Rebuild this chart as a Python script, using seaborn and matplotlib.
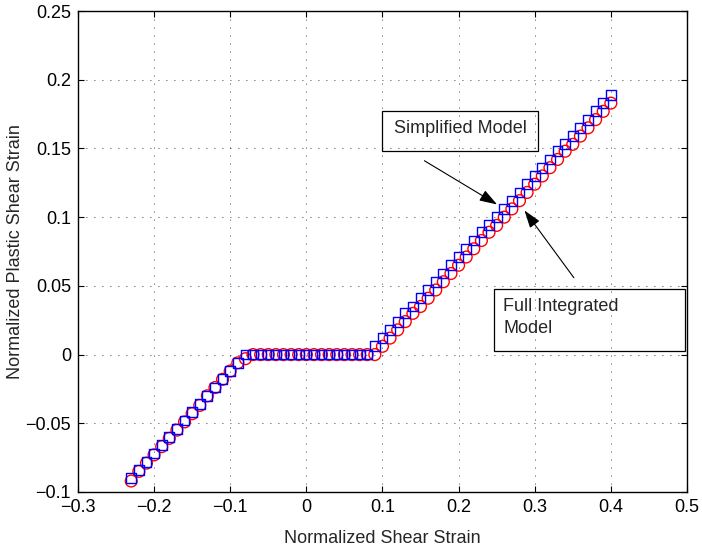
import numpy as np
import pandas as pd
import seaborn as sns
import matplotlib.pyplot as plt
from matplotlib.patches import Rectangle

# normalized shear strain (same grid for both models)
strain = [-0.23, -0.22, -0.21, -0.20, -0.19, -0.18, -0.17, -0.16, -0.15, -0.14,
          -0.13, -0.12, -0.11, -0.10, -0.09, -0.08, -0.07, -0.06, -0.05, -0.04,
          -0.03, -0.02, -0.01, 0.00, 0.01, 0.02, 0.03, 0.04, 0.05, 0.06,
          0.07, 0.08, 0.09, 0.10, 0.11, 0.12, 0.13, 0.14, 0.15, 0.16,
          0.17, 0.18, 0.19, 0.20, 0.21, 0.22, 0.23, 0.24, 0.25, 0.26,
          0.27, 0.28, 0.29, 0.30, 0.31, 0.32, 0.33, 0.34, 0.35, 0.36,
          0.37, 0.38, 0.39, 0.40]

# full integrated model (red circles)
plastic_full = [-0.092, -0.085, -0.079, -0.073, -0.067, -0.061, -0.055, -0.049, -0.043, -0.037,
                -0.030, -0.024, -0.018, -0.012, -0.006, -0.003, 0.0, 0.0, 0.0, 0.0,
                0.0, 0.0, 0.0, 0.0, 0.0, 0.0, 0.0, 0.0, 0.0, 0.0,
                0.0, 0.0, 0.0, 0.006, 0.012, 0.018, 0.024, 0.030, 0.035, 0.041,
                0.047, 0.053, 0.059, 0.065, 0.071, 0.077, 0.083, 0.089, 0.094, 0.100,
                0.106, 0.112, 0.118, 0.124, 0.130, 0.136, 0.142, 0.148, 0.153, 0.159,
                0.165, 0.171, 0.177, 0.183]

# simplified model (blue squares)
plastic_simple = [-0.090, -0.084, -0.078, -0.072, -0.066, -0.060, -0.054, -0.048, -0.042, -0.036,
                  -0.030, -0.024, -0.018, -0.012, -0.006, 0.0, 0.0, 0.0, 0.0, 0.0,
                  0.0, 0.0, 0.0, 0.0, 0.0, 0.0, 0.0, 0.0, 0.0, 0.0,
                  0.0, 0.0, 0.006, 0.012, 0.018, 0.024, 0.030, 0.035, 0.041, 0.047,
                  0.053, 0.059, 0.065, 0.071, 0.077, 0.083, 0.089, 0.094, 0.100, 0.106,
                  0.112, 0.118, 0.124, 0.130, 0.136, 0.142, 0.148, 0.153, 0.159, 0.165,
                  0.171, 0.177, 0.183, 0.189]

x_ticks = [-0.3, -0.2, -0.1, 0, 0.1, 0.2, 0.3, 0.4, 0.5]
x_tick_labels = ["\u22120.3", "\u22120.2", "\u22120.1", "0", "0.1", "0.2", "0.3", "0.4", "0.5"]
y_ticks = [-0.1, -0.05, 0, 0.05, 0.1, 0.15, 0.2, 0.25]
y_tick_labels = ["\u22120.1", "\u22120.05", "0", "0.05", "0.1", "0.15", "0.2", "0.25"]

sns.set_style("white")
plt.rcParams["font.family"] = ["Liberation Sans", "DejaVu Sans"]

df = pd.DataFrame({"strain": strain, "full": plastic_full, "simple": plastic_simple})

fig = plt.figure(figsize=(7.02, 5.52), dpi=100)
ax = fig.add_axes([0.111, 0.1087, 0.8676, 0.8713])

sns.scatterplot(data=df, x="strain", y="full", marker="o", s=72, facecolor="none",
                edgecolor="#ff0000", linewidth=1.0, ax=ax, zorder=3)
sns.scatterplot(data=df, x="strain", y="simple", marker="s", s=50, facecolor="none",
                edgecolor="#0000ff", linewidth=1.0, ax=ax, zorder=4)

ax.set_xlim(-0.3, 0.5)
ax.set_ylim(-0.1, 0.25)
ax.set_xticks(x_ticks)
ax.set_xticklabels(x_tick_labels)
ax.set_yticks(y_ticks)
ax.set_yticklabels(y_tick_labels)
ax.grid(True, color="black", linestyle=(0, (1, 8.6)), linewidth=0.6)
ax.tick_params(direction="in", length=4, width=0.8, labelsize=13, pad=5,
               top=True, right=True, bottom=True, left=True, colors="black")
for s in ax.spines.values():
    s.set_color("black")
    s.set_linewidth(1.0)

ax.set_xlabel("Normalized Shear Strain", fontsize=13, labelpad=10)
ax.set_ylabel("Normalized Plastic Shear Strain", fontsize=13, labelpad=1)

arrow_style = dict(arrowstyle="-|>,head_length=0.6,head_width=0.2", color="black",
                   lw=0.8, mutation_scale=18)

# annotation boxes
ax.add_patch(Rectangle((0.0996, 0.1484), 0.2044, 0.0291, fill=False, ec="black", lw=0.9, zorder=5))
ax.text(0.202, 0.1645, "Simplified Model", ha="center", va="center", fontsize=13, zorder=6)
ax.annotate("", xy=(0.2537, 0.1082), xytext=(0.152, 0.1421), arrowprops=arrow_style, zorder=6)

ax.add_patch(Rectangle((0.246, 0.0028), 0.252, 0.0447, fill=False, ec="black", lw=0.9, zorder=5))
ax.text(0.259, 0.0268, "Full Integrated\nModel", ha="left", va="center", fontsize=13,
        linespacing=1.4, zorder=6)
ax.annotate("", xy=(0.2844, 0.1065), xytext=(0.3536, 0.0543), arrowprops=arrow_style, zorder=6)

fig.savefig("out.png", dpi=100)
